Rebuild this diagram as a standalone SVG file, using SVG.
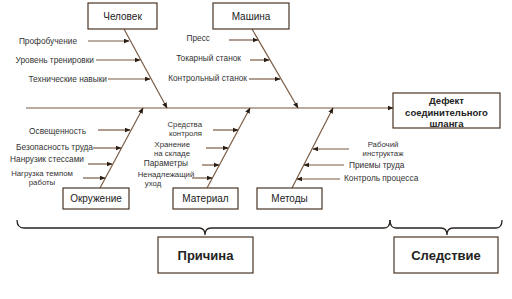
<svg xmlns="http://www.w3.org/2000/svg" width="512" height="299" viewBox="0 0 512 299">
<defs>
<marker id="ah" viewBox="0 0 10 10" refX="9" refY="5" markerWidth="6" markerHeight="6" orient="auto" markerUnits="userSpaceOnUse">
<path d="M0,1 L10,5 L0,9 z" fill="#2a1e14"/>
</marker>
<style>
.ln{stroke:#7b5b43;stroke-width:1.2;fill:none;marker-end:url(#ah)}
.box{fill:#fff;stroke:#4a3424;stroke-width:1.2}
.lbl{font-family:"Liberation Sans",Arial,sans-serif;font-size:8.3px;fill:#333}
.ml{font-size:7.8px}
.bt{font-family:"Liberation Sans",Arial,sans-serif;font-size:10px;fill:#222;text-anchor:middle}
.bb{font-family:"Liberation Sans",Arial,sans-serif;font-size:13px;font-weight:bold;fill:#222;text-anchor:middle}
.be{font-family:"Liberation Sans",Arial,sans-serif;font-size:9.5px;font-weight:bold;fill:#222;text-anchor:middle}
.br{stroke:#2a2420;stroke-width:1.3;fill:none}
</style>
</defs>
<rect width="512" height="299" fill="#fff"/>
<g id="connectors">
<line class="ln" x1="26" y1="108" x2="393" y2="108"/>
<line class="ln" x1="124" y1="29" x2="167" y2="108"/>
<line class="ln" x1="252" y1="29" x2="298" y2="108"/>
<line class="ln" x1="100" y1="188" x2="143" y2="108"/>
<line class="ln" x1="207" y1="188" x2="250" y2="108"/>
<line class="ln" x1="292" y1="188" x2="333" y2="108"/>
<line class="ln" x1="88" y1="41" x2="129" y2="41"/>
<line class="ln" x1="96" y1="60" x2="140" y2="60"/>
<line class="ln" x1="108" y1="79" x2="150" y2="79"/>
<line class="ln" x1="229" y1="40" x2="258" y2="40"/>
<line class="ln" x1="250" y1="60" x2="269" y2="60"/>
<line class="ln" x1="249" y1="79" x2="280" y2="79"/>
<line class="ln" x1="98" y1="130" x2="130" y2="130"/>
<line class="ln" x1="93" y1="148" x2="121" y2="148"/>
<line class="ln" x1="88" y1="164" x2="112" y2="164"/>
<line class="ln" x1="83" y1="178" x2="105" y2="178"/>
<line class="ln" x1="213" y1="130" x2="238" y2="130"/>
<line class="ln" x1="206" y1="148" x2="228" y2="148"/>
<line class="ln" x1="202" y1="165" x2="219" y2="165"/>
<line class="ln" x1="192" y1="178" x2="212" y2="178"/>
<line class="ln" x1="349" y1="149" x2="313" y2="149"/>
<line class="ln" x1="344" y1="165" x2="304" y2="165"/>
<line class="ln" x1="340" y1="179" x2="297" y2="179"/>
</g>
<g id="braces">
<path class="br" d="M17,220 Q17,228 24,228 L199,228 Q205,228 205,235 Q205,228 211,228 L384,228 Q390,228 390,220"/>
<path class="br" d="M390,220 Q390,228 396,228 L441,228 Q447,228 447,235 Q447,228 453,228 L496,228 Q502,228 502,220"/>
</g>
<g id="n-chelovek"><rect class="box" x="88" y="3" width="69" height="26"/><text class="bt" x="122.5" y="20">Человек</text></g>
<g id="n-mashina"><rect class="box" x="213" y="3" width="76" height="26"/><text class="bt" x="251" y="20">Машина</text></g>
<g id="n-effect"><rect class="box" x="393" y="93" width="107" height="35"/>
<text class="be" x="446.5" y="104">Дефект</text>
<text class="be" x="446.5" y="115.5">соединительного</text>
<text class="be" x="446.5" y="127">шланга</text></g>
<g id="n-okruzhenie"><rect class="box" x="63" y="188" width="66" height="21"/><text class="bt" x="96" y="202">Окружение</text></g>
<g id="n-material"><rect class="box" x="173" y="188" width="65" height="21"/><text class="bt" x="205.5" y="202">Материал</text></g>
<g id="n-metody"><rect class="box" x="257" y="188" width="65" height="21"/><text class="bt" x="289.5" y="202">Методы</text></g>
<g id="n-prichina"><rect class="box" x="158" y="237" width="95" height="36"/><text class="bb" x="205.5" y="260">Причина</text></g>
<g id="n-sledstvie"><rect class="box" x="394" y="237" width="104" height="36"/><text class="bb" x="446" y="260">Следствие</text></g>
<g id="labels">
<text class="lbl" x="77" y="44" text-anchor="end">Профобучение</text>
<text class="lbl" x="94" y="63" text-anchor="end">Уровень тренировки</text>
<text class="lbl" x="107" y="82" text-anchor="end">Технические навыки</text>
<text class="lbl" x="210" y="41" text-anchor="end">Пресс</text>
<text class="lbl" x="241" y="61" text-anchor="end">Токарный станок</text>
<text class="lbl" x="247" y="81" text-anchor="end">Контрольный станок</text>
<text class="lbl" x="86" y="134" text-anchor="end">Освещенность</text>
<text class="lbl" x="93" y="150" text-anchor="end">Безопасность труда</text>
<text class="lbl" x="84" y="162" text-anchor="end">Нанрузик стессами</text>
<text class="lbl ml" x="42" y="175.5" text-anchor="middle">Нагрузка темпом</text>
<text class="lbl ml" x="42" y="184.5" text-anchor="middle">работы</text>
<text class="lbl ml" x="202" y="126.5" text-anchor="end">Средства</text>
<text class="lbl ml" x="202" y="135.5" text-anchor="end">контроля</text>
<text class="lbl ml" x="190" y="146.5" text-anchor="end">Хранение</text>
<text class="lbl ml" x="190" y="155.5" text-anchor="end">на складе</text>
<text class="lbl" x="188" y="166" text-anchor="end">Параметры</text>
<text class="lbl ml" x="166" y="176.5" text-anchor="middle">Ненадлежащий</text>
<text class="lbl ml" x="153" y="185.5" text-anchor="middle">уход</text>
<text class="lbl ml" x="383" y="146.5" text-anchor="middle">Рабочий</text>
<text class="lbl ml" x="383" y="155.5" text-anchor="middle">инструктаж</text>
<text class="lbl" x="349" y="168">Приемы труда</text>
<text class="lbl" x="344" y="181">Контроль процесса</text>
</g>
</svg>
